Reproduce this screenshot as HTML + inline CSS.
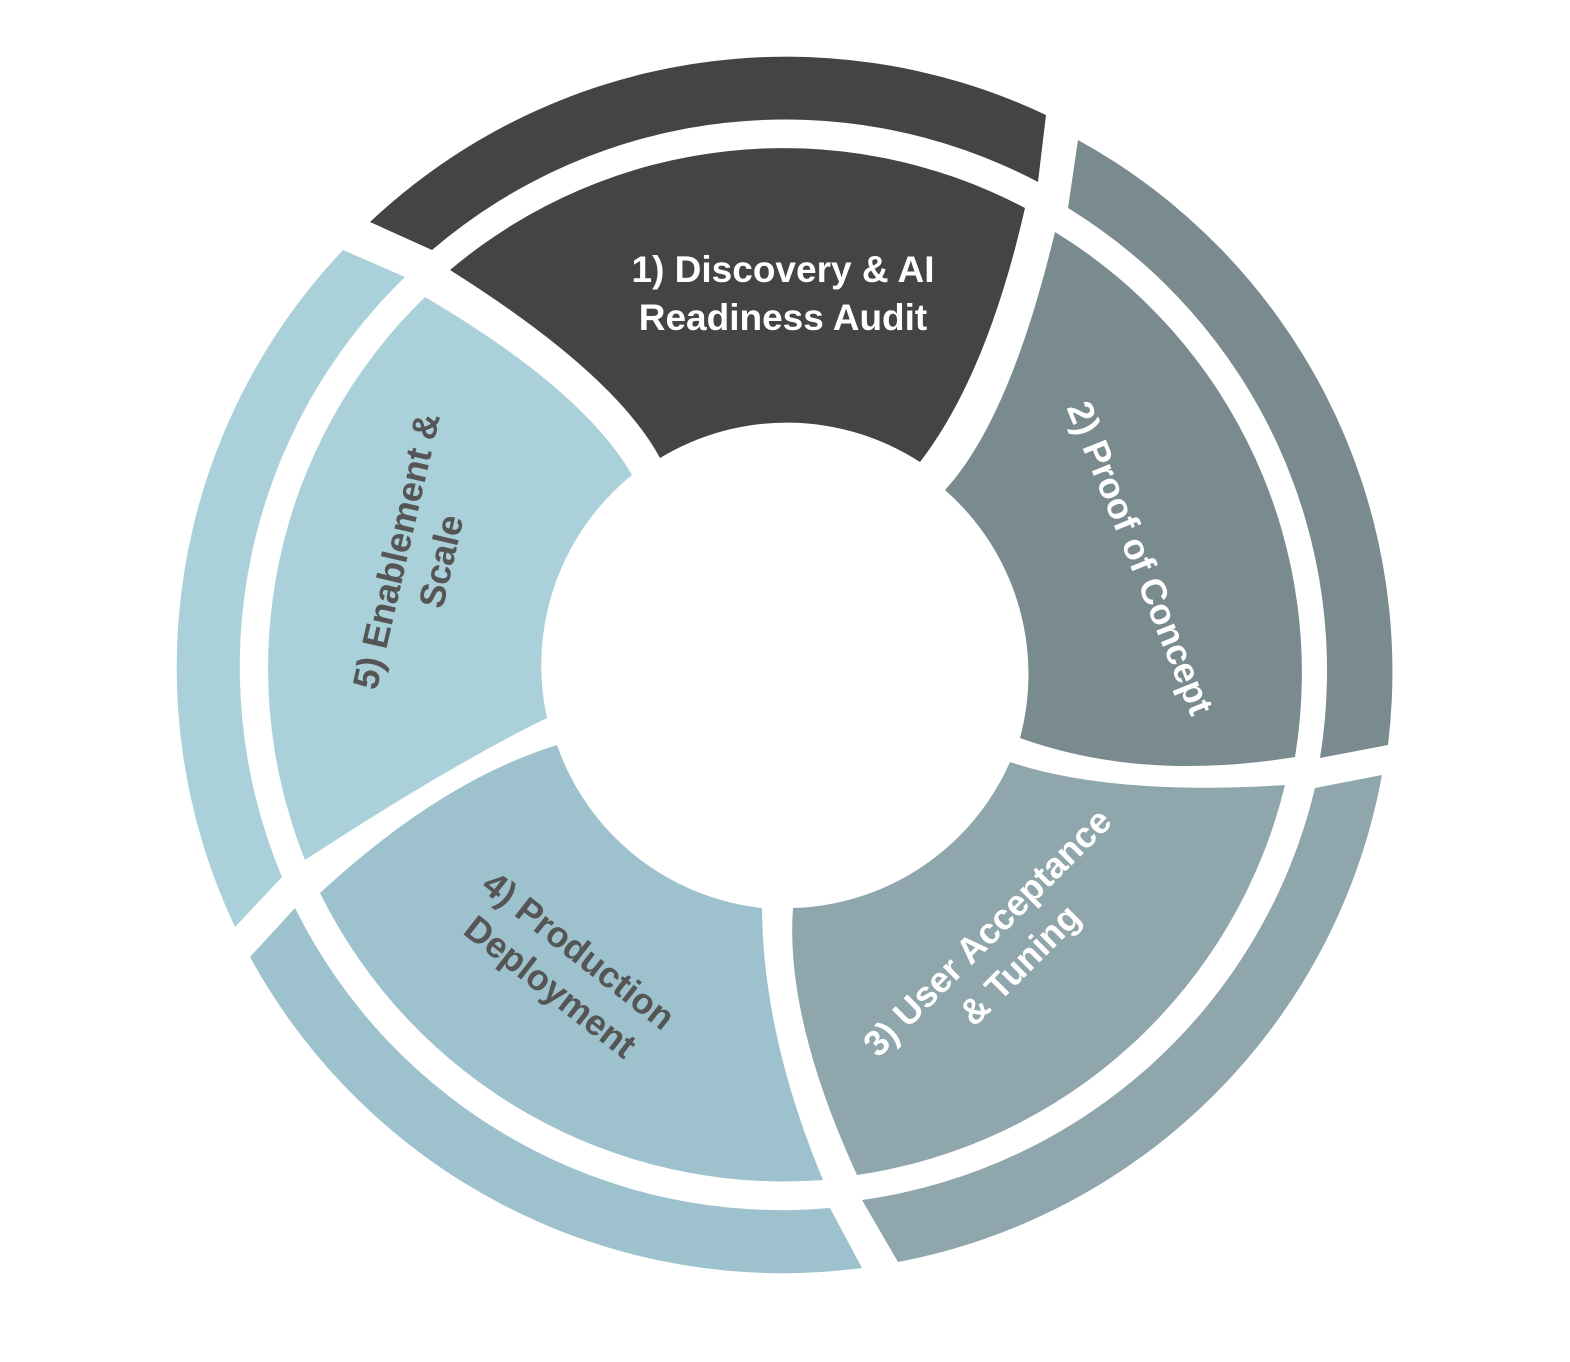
<!DOCTYPE html>
<html><head><meta charset="utf-8"><style>
html,body{margin:0;padding:0;background:#fff;}
svg{display:block;}
text{font-family:"Liberation Sans",sans-serif;font-weight:bold;font-size:36px;}
</style></head><body>
<svg width="1570" height="1362" viewBox="0 0 1570 1362" xmlns="http://www.w3.org/2000/svg">
<!-- outer ring -->
<path d="M370,222 A607,607 0 0 1 1046,115 L1038,182 A543,543 0 0 0 432,250 Z" fill="#444444"/>
<path d="M1078,140 A607,607 0 0 1 1388,745 L1320,758 A543,543 0 0 0 1068,208 Z" fill="#7a8b8f"/>
<path d="M1382,775 A607,607 0 0 1 898,1262 L862,1200 A543,543 0 0 0 1315,788 Z" fill="#8fa6ac"/>
<path d="M862,1268 A607,607 0 0 1 250,957 L295,908 A543,543 0 0 0 830,1208 Z" fill="#9ec2cd"/>
<path d="M235,927 A607,607 0 0 1 343,250 L405,277 A543,543 0 0 0 282,877 Z" fill="#aad1d9"/>
<!-- inner ring -->
<path d="M450,270 A517,517 0 0 1 1025,208 Q987,375 920,462 A245,245 0 0 0 660,458 Q615,374 450,270 Z" fill="#444444"/>
<path d="M1055,232 A517,517 0 0 1 1295,757 Q1142,782 1020,738 A245,245 0 0 0 945,490 Q1010,419 1055,232 Z" fill="#7a8b8f"/>
<path d="M1285,785 A517,517 0 0 1 857,1175 Q785,1018 793,908 A245,245 0 0 0 1010,762 Q1112,796 1285,785 Z" fill="#8fa6ac"/>
<path d="M823,1180 A517,517 0 0 1 320,893 Q441,781 557,745 A245,245 0 0 0 762,908 Q763,1036 823,1180 Z" fill="#9ec2cd"/>
<path d="M305,860 A517,517 0 0 1 425,297 Q583,390 632,475 A245,245 0 0 0 547,718 Q454,763 305,860 Z" fill="#aad1d9"/>
<!-- labels -->
<text x="783" y="282" fill="#fff" text-anchor="middle" style="font-size:37px">1) Discovery &amp; AI</text>
<text x="783" y="330" fill="#fff" text-anchor="middle" style="font-size:37px">Readiness Audit</text>
<text transform="translate(1140,558) rotate(68)" fill="#fff" text-anchor="middle" dy="12">2) Proof of Concept</text>
<g transform="translate(1003,948) rotate(-45)" fill="#fff" text-anchor="middle">
<text y="-10">3) User Acceptance</text><text y="36">&amp; Tuning</text></g>
<g transform="translate(565,968) rotate(38)" fill="#555" text-anchor="middle">
<text y="-10">4) Production</text><text y="36">Deployment</text></g>
<g transform="translate(418,556) rotate(-77)" fill="#555" text-anchor="middle">
<text y="-10">5) Enablement &amp;</text><text y="36">Scale</text></g>
</svg>
</body></html>
